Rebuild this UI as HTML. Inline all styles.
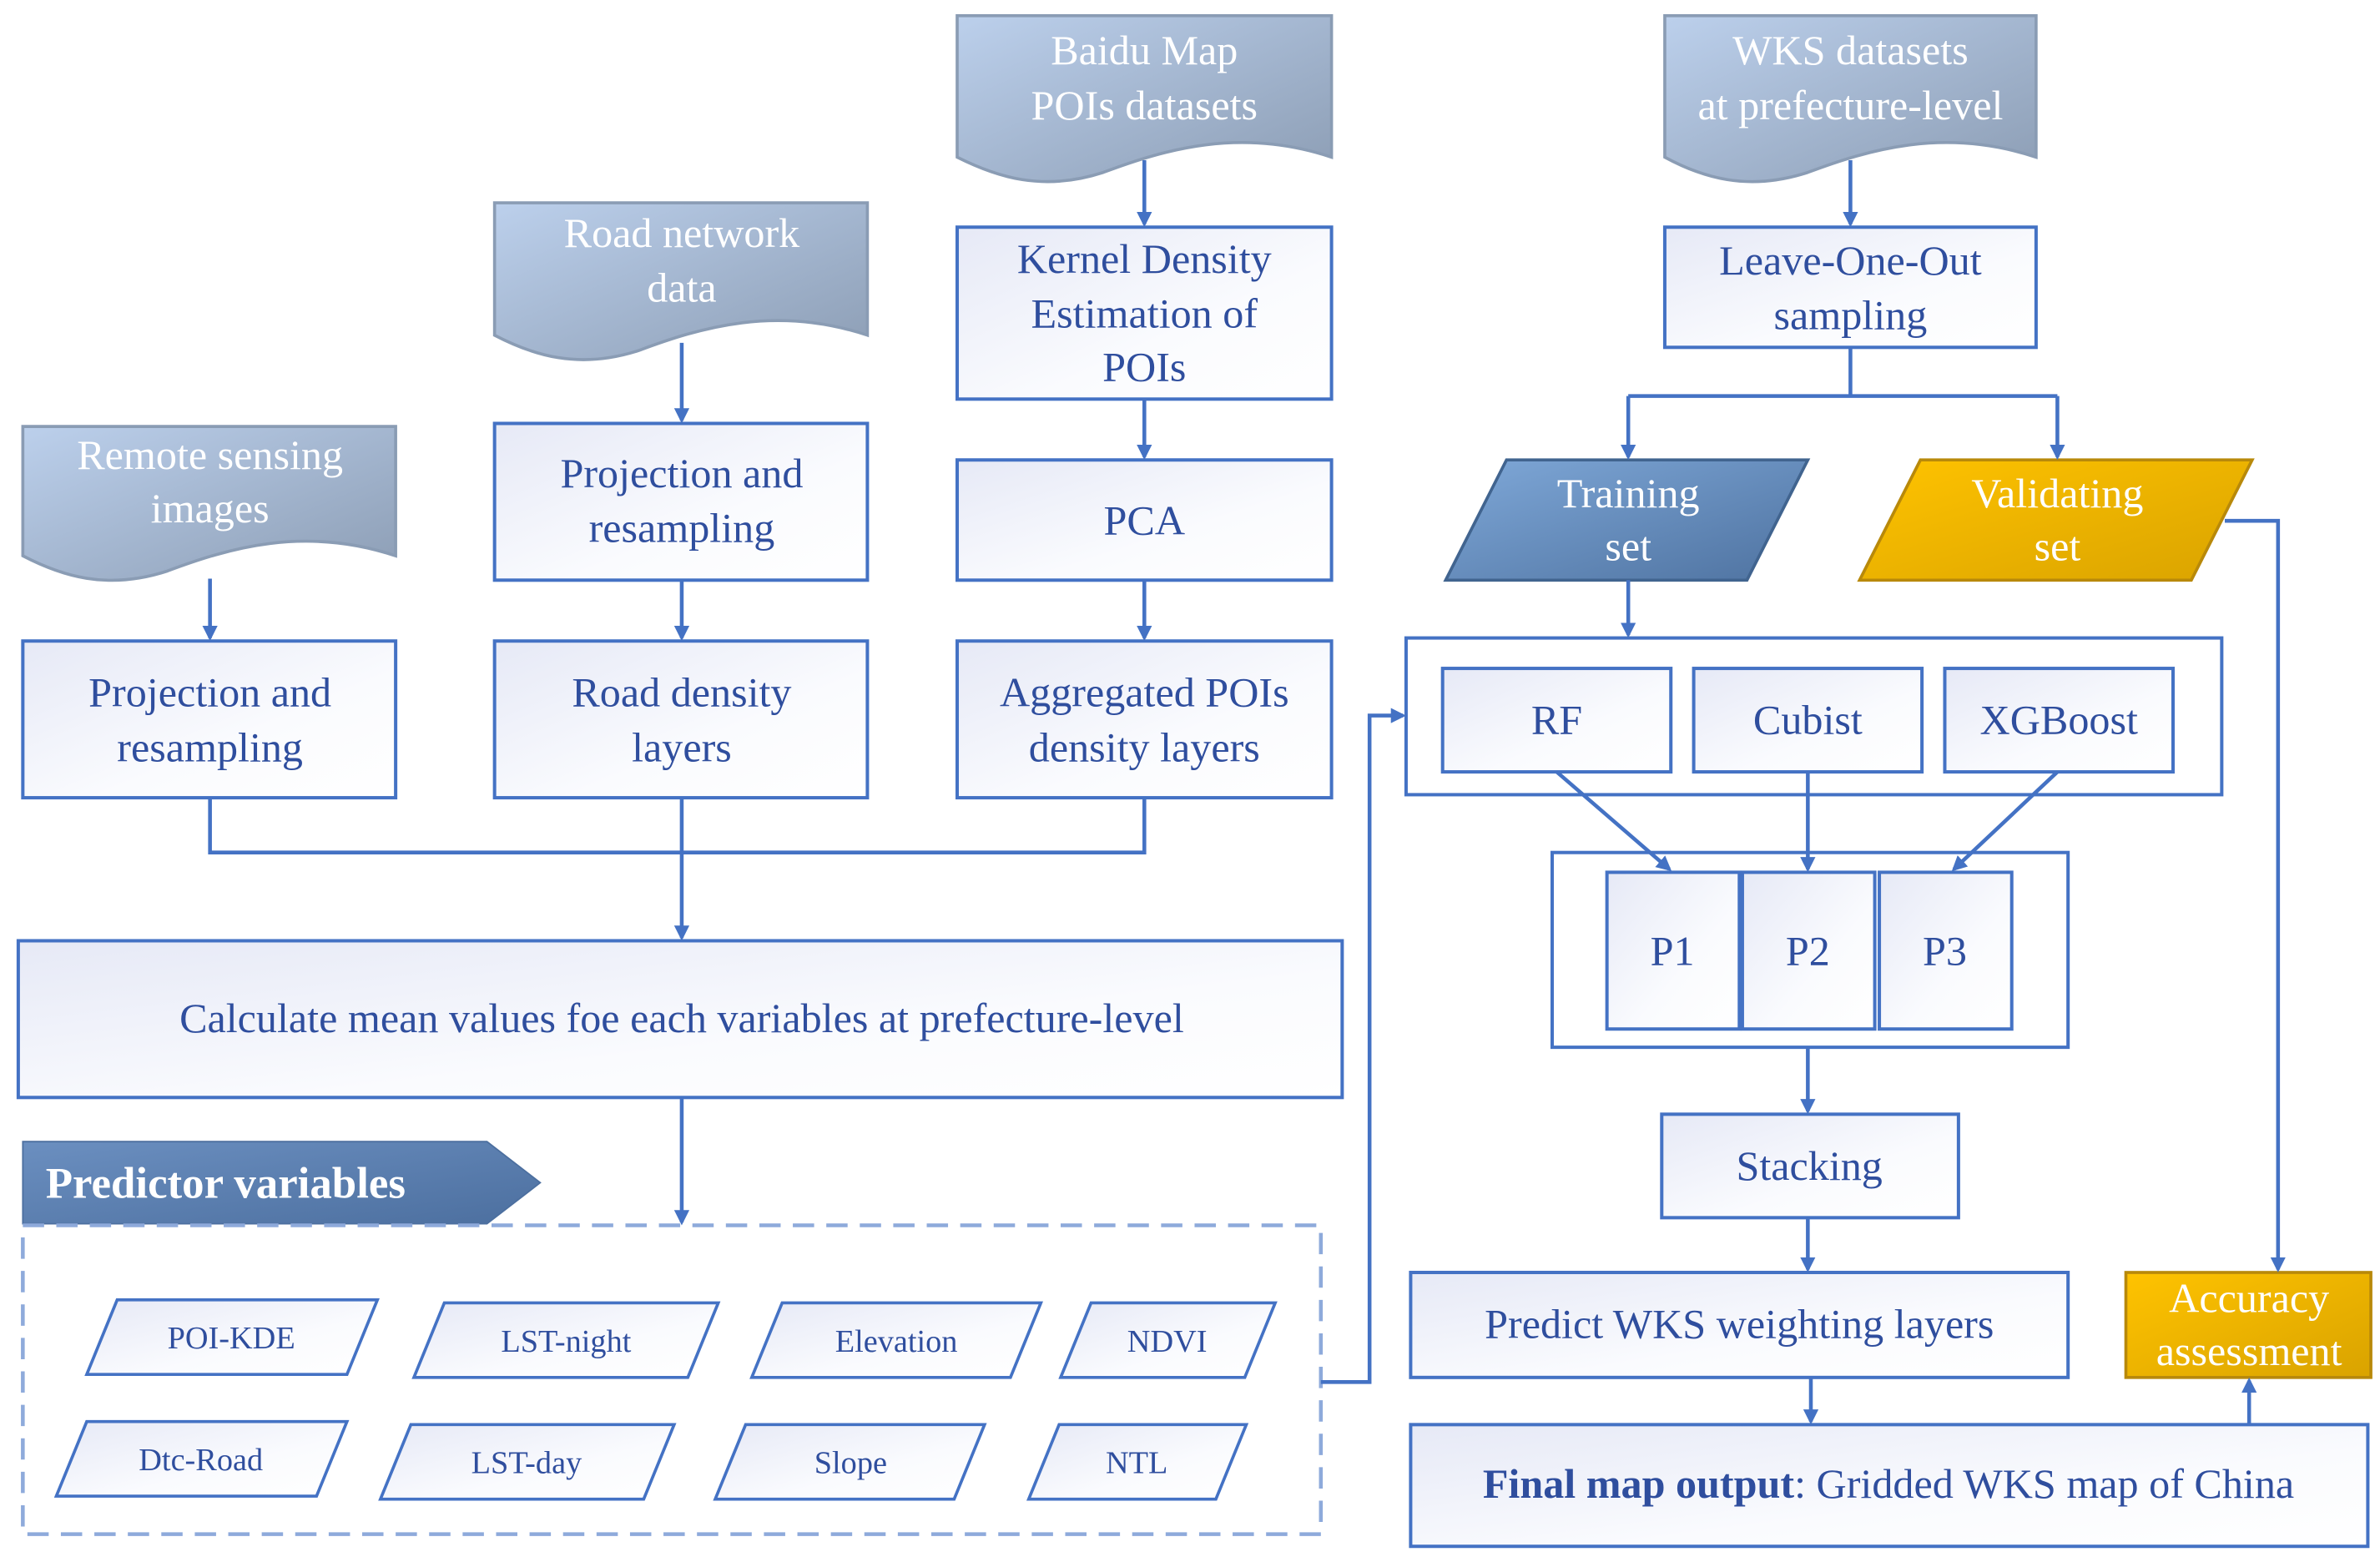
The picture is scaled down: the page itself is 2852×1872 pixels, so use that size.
<!DOCTYPE html>
<html><head><meta charset="utf-8"><style>
html,body{margin:0;padding:0;background:#fff}
svg{display:block}
svg text{font-family:"Liberation Serif","Times New Roman","DejaVu Serif",serif;fill:#2f4e9e;font-size:27.5px;text-anchor:middle}
svg text.w{fill:#fff}
svg text.s{font-size:21px}
</style></head><body>
<svg width="2852" height="1872" viewBox="0 0 1564 1026" xmlns="http://www.w3.org/2000/svg" font-family="Liberation Serif, serif">
<defs>
<linearGradient id="doc" x1="0" y1="0" x2="1" y2="1"><stop offset="0" stop-color="#bcd0ec"/><stop offset="1" stop-color="#8c9db4"/></linearGradient>
<linearGradient id="box" x1="0" y1="0" x2="1" y2="1"><stop offset="0" stop-color="#e6e9f6"/><stop offset="0.6" stop-color="#fafbfe"/><stop offset="1" stop-color="#ffffff"/></linearGradient>
<linearGradient id="blue" x1="0" y1="0" x2="1" y2="1"><stop offset="0" stop-color="#7fa8d8"/><stop offset="1" stop-color="#4e72a0"/></linearGradient>
<linearGradient id="gold" x1="0" y1="0" x2="1" y2="1"><stop offset="0" stop-color="#ffc300"/><stop offset="1" stop-color="#d9a300"/></linearGradient>
<linearGradient id="ban" x1="0" y1="0" x2="1" y2="1"><stop offset="0" stop-color="#6b8fc0"/><stop offset="1" stop-color="#4c6f9f"/></linearGradient>
<marker id="a" markerWidth="10" markerHeight="10" refX="8" refY="5" orient="auto" markerUnits="userSpaceOnUse"><path d="M0,0 L10,5 L0,10 z" fill="#4472c4"/></marker>
</defs>
<g stroke="#8a9cb4" stroke-width="2" fill="url(#doc)">
<path d="M15,280 H260 V365 C200,345 150,360 110,375 C70,388 40,378 15,365 Z"/>
<path d="M325,133 H570 V220 C510,200 460,215 420,230 C380,243 350,233 325,220 Z"/>
<path d="M629,10 H875 V103 C815,83 765,98 725,113 C685,126 655,116 629,103 Z"/>
<path d="M1094,10 H1338 V103 C1278,83 1228,98 1188,113 C1148,126 1118,116 1094,103 Z"/>
</g>
<text class="w" x="138" y="308">Remote sensing</text><text class="w" x="138" y="343">images</text>
<text class="w" x="448" y="162">Road network</text><text class="w" x="448" y="198">data</text>
<text class="w" x="752" y="42">Baidu Map</text><text class="w" x="752" y="78">POIs datasets</text>
<text class="w" x="1216" y="42">WKS datasets</text><text class="w" x="1216" y="78">at prefecture-level</text>
<g stroke="#4472c4" stroke-width="2.2" fill="url(#box)">
<rect x="15" y="421" width="245" height="103"/>
<rect x="325" y="278" width="245" height="103"/>
<rect x="325" y="421" width="245" height="103"/>
<rect x="629" y="149" width="246" height="113"/>
<rect x="629" y="302" width="246" height="79"/>
<rect x="629" y="421" width="246" height="103"/>
<rect x="12" y="618" width="870" height="103"/>
<rect x="1094" y="149" width="244" height="79"/>
<rect x="924" y="419" width="536" height="103" fill="#fff"/>
<rect x="948" y="439" width="150" height="68"/>
<rect x="1113" y="439" width="150" height="68"/>
<rect x="1278" y="439" width="150" height="68"/>
<rect x="1020" y="560" width="339" height="128" fill="#fff"/>
<rect x="1056" y="573" width="87" height="103"/>
<rect x="1145" y="573" width="87" height="103"/>
<rect x="1235" y="573" width="87" height="103"/>
<rect x="1092" y="732" width="195" height="68"/>
<rect x="927" y="836" width="432" height="69"/>
<rect x="927" y="936" width="629" height="80"/>
</g>
<path d="M990,302 H1188 L1148,381 H950 Z" fill="url(#blue)" stroke="#41648f" stroke-width="2"/>
<path d="M1262,302 H1480 L1440,381 H1222 Z" fill="url(#gold)" stroke="#b8890a" stroke-width="2"/>
<rect x="1397" y="836" width="161" height="69" fill="url(#gold)" stroke="#b8890a" stroke-width="2"/>
<path d="M15,750 H320 L355,777 L320,804 H15 Z" fill="url(#ban)" stroke="#4c6f9f" stroke-width="1"/>
<rect x="15" y="805" width="853" height="203" fill="none" stroke="#8eaadb" stroke-width="2.5" stroke-dasharray="14,8"/>
<g fill="url(#box)" stroke="#4472c4" stroke-width="2">
<path d="M77,854 H248 L228,903 H57 Z"/>
<path d="M292,856 H472 L452,905 H272 Z"/>
<path d="M514,856 H684 L664,905 H494 Z"/>
<path d="M717,856 H838 L818,905 H697 Z"/>
<path d="M57,934 H228 L208,983 H37 Z"/>
<path d="M270,936 H443 L423,985 H250 Z"/>
<path d="M490,936 H647 L627,985 H470 Z"/>
<path d="M696,936 H819 L799,985 H676 Z"/>
</g>
<text class="s" x="152" y="886">POI-KDE</text>
<text class="s" x="372" y="888">LST-night</text>
<text class="s" x="589" y="888">Elevation</text>
<text class="s" x="767" y="888">NDVI</text>
<text class="s" x="132" y="966">Dtc-Road</text>
<text class="s" x="346" y="968">LST-day</text>
<text class="s" x="559" y="968">Slope</text>
<text class="s" x="747" y="968">NTL</text>
<text x="138" y="464">Projection and</text><text x="138" y="500">resampling</text>
<text x="448" y="320">Projection and</text><text x="448" y="356">resampling</text>
<text x="448" y="464">Road density</text><text x="448" y="500">layers</text>
<text x="752" y="179">Kernel  Density</text><text x="752" y="215">Estimation of</text><text x="752" y="250">POIs</text>
<text x="752" y="351">PCA</text>
<text x="752" y="464">Aggregated POIs</text><text x="752" y="500">density layers</text>
<text x="448" y="678">Calculate mean values foe each variables at prefecture-level</text>
<text x="1216" y="180">Leave-One-Out</text><text x="1216" y="216">sampling</text>
<text class="w" x="1070" y="333">Training</text><text class="w" x="1070" y="368">set</text>
<text class="w" x="1352" y="333">Validating</text><text class="w" x="1352" y="368">set</text>
<text x="1023" y="482">RF</text><text x="1188" y="482">Cubist</text><text x="1353" y="482">XGBoost</text>
<text x="1099" y="634">P1</text><text x="1188" y="634">P2</text><text x="1278" y="634">P3</text>
<text x="1189" y="775">Stacking</text>
<text x="1143" y="879">Predict WKS weighting layers</text>
<text class="w" x="1478" y="862">Accuracy</text><text class="w" x="1478" y="897">assessment</text>
<text x="1241" y="984"><tspan font-weight="bold">Final map output</tspan>: Gridded WKS map of China</text>
<text class="w" x="30" y="787" style="text-anchor:start;font-weight:bold;font-size:29px">Predictor variables</text>
<g stroke="#4472c4" stroke-width="2.5" fill="none">
<path d="M138,380 V419" marker-end="url(#a)"/>
<path d="M448,225 V276" marker-end="url(#a)"/>
<path d="M448,381 V419" marker-end="url(#a)"/>
<path d="M752,105 V147" marker-end="url(#a)"/>
<path d="M752,262 V300" marker-end="url(#a)"/>
<path d="M752,381 V419" marker-end="url(#a)"/>
<path d="M138,524 V560 H752 V524"/>
<path d="M448,524 V616" marker-end="url(#a)"/>
<path d="M448,721 V803" marker-end="url(#a)"/>
<path d="M868,908 H900 V470 H922" marker-end="url(#a)"/>
<path d="M1216,105 V147" marker-end="url(#a)"/>
<path d="M1216,228 V260 M1070,260 H1352"/>
<path d="M1070,260 V300" marker-end="url(#a)"/>
<path d="M1352,260 V300" marker-end="url(#a)"/>
<path d="M1070,381 V417" marker-end="url(#a)"/>
<path d="M1023,507 L1097,571" marker-end="url(#a)"/>
<path d="M1188,507 V571" marker-end="url(#a)"/>
<path d="M1352,507 L1284,571" marker-end="url(#a)"/>
<path d="M1188,688 V730" marker-end="url(#a)"/>
<path d="M1188,800 V834" marker-end="url(#a)"/>
<path d="M1190,905 V934" marker-end="url(#a)"/>
<path d="M1462,342 H1497 V834" marker-end="url(#a)"/>
<path d="M1478,936 V907" marker-end="url(#a)"/>
</g>
</svg>
</body></html>
